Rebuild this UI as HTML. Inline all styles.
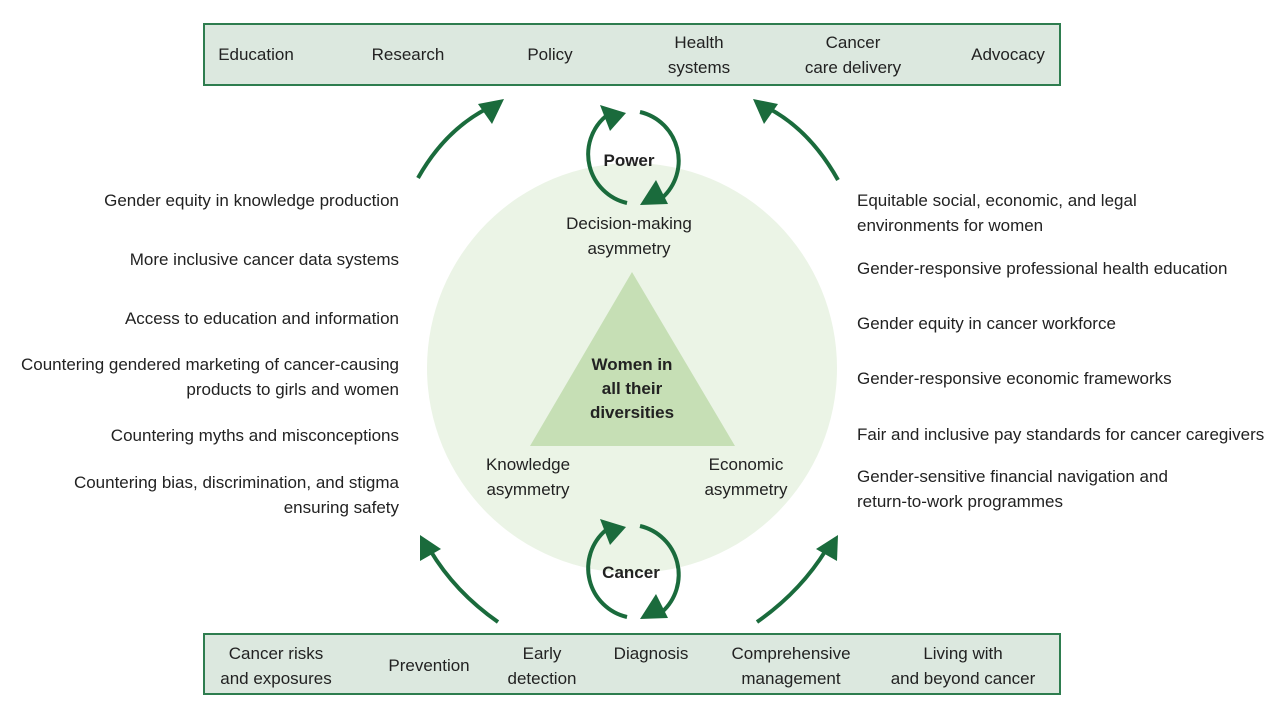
<!DOCTYPE html>
<html><head><meta charset="utf-8"><style>
html,body{margin:0;padding:0;background:#fff;}
svg{display:block;font-family:"Liberation Sans",sans-serif;}
text{fill:#222;font-size:17px;}
</style></head><body>
<svg width="1280" height="720" viewBox="0 0 1280 720" xmlns="http://www.w3.org/2000/svg">
<circle cx="632" cy="368" r="205" fill="#ebf4e6"/>
<polygon points="632,272 530,446 735,446" fill="#c6dfb5"/>
<rect x="204" y="24" width="856" height="61" fill="#dce8df" stroke="#2e7d4f" stroke-width="2"/>
<rect x="204" y="634" width="856" height="60" fill="#dce8df" stroke="#2e7d4f" stroke-width="2"/>
<g text-anchor="middle">
<text x="256" y="60">Education</text>
<text x="408" y="60">Research</text>
<text x="550" y="60">Policy</text>
<text x="699" y="48">Health</text><text x="699" y="73">systems</text>
<text x="853" y="48">Cancer</text><text x="853" y="73">care delivery</text>
<text x="1008" y="60">Advocacy</text>
<text x="276" y="659">Cancer risks</text><text x="276" y="684">and exposures</text>
<text x="429" y="671">Prevention</text>
<text x="542" y="659">Early</text><text x="542" y="684">detection</text>
<text x="651" y="659">Diagnosis</text>
<text x="791" y="659">Comprehensive</text><text x="791" y="684">management</text>
<text x="963" y="659">Living with</text><text x="963" y="684">and beyond cancer</text>
<text x="629" y="229">Decision-making</text><text x="629" y="254">asymmetry</text>
<text x="528" y="470">Knowledge</text><text x="528" y="495">asymmetry</text>
<text x="746" y="470">Economic</text><text x="746" y="495">asymmetry</text>
<text x="632" y="370" font-weight="bold">Women in</text>
<text x="632" y="394" font-weight="bold">all their</text>
<text x="632" y="418" font-weight="bold">diversities</text>
<text x="629" y="166" font-weight="bold">Power</text>
<text x="631" y="578" font-weight="bold">Cancer</text>
</g>
<g text-anchor="end">
<text x="399" y="206">Gender equity in knowledge production</text>
<text x="399" y="265">More inclusive cancer data systems</text>
<text x="399" y="324">Access to education and information</text>
<text x="399" y="370">Countering gendered marketing of cancer-causing</text>
<text x="399" y="395">products to girls and women</text>
<text x="399" y="441">Countering myths and misconceptions</text>
<text x="399" y="488">Countering bias, discrimination, and stigma</text>
<text x="399" y="513">ensuring safety</text>
</g>
<g>
<text x="857" y="206">Equitable social, economic, and legal</text>
<text x="857" y="231">environments for women</text>
<text x="857" y="274">Gender-responsive professional health education</text>
<text x="857" y="329">Gender equity in cancer workforce</text>
<text x="857" y="384">Gender-responsive economic frameworks</text>
<text x="857" y="440">Fair and inclusive pay standards for cancer caregivers</text>
<text x="857" y="482">Gender-sensitive financial navigation and</text>
<text x="857" y="507">return-to-work programmes</text>
</g>
<g fill="none" stroke="#1a6b3c" stroke-width="4">
<path d="M418,178 Q445,130 488,108"/>
<path d="M838,180 Q810,130 768,108"/>
<path d="M498,622 Q455,592 430,550"/>
<path d="M757,622 Q800,592 826,550"/>
<path d="M627,203 A50,50 0 0 1 606,116"/>
<path d="M640,112 A50,50 0 0 1 662,198"/>
<path d="M627,617 A50,50 0 0 1 606,530"/>
<path d="M640,526 A50,50 0 0 1 662,612"/>
</g>
<g fill="#1a6b3c">
<polygon points="504,99 478,104 492,124"/>
<polygon points="753,99 778,104 764,124"/>
<polygon points="420,535 420,561 441,549"/>
<polygon points="838,535 837,561 816,549"/>
<polygon points="626,113 600,105 610,131"/>
<polygon points="640,205 668,204 656,180"/>
<polygon points="626,527 600,519 610,545"/>
<polygon points="640,619 668,618 656,594"/>
</g>
</svg>
</body></html>
